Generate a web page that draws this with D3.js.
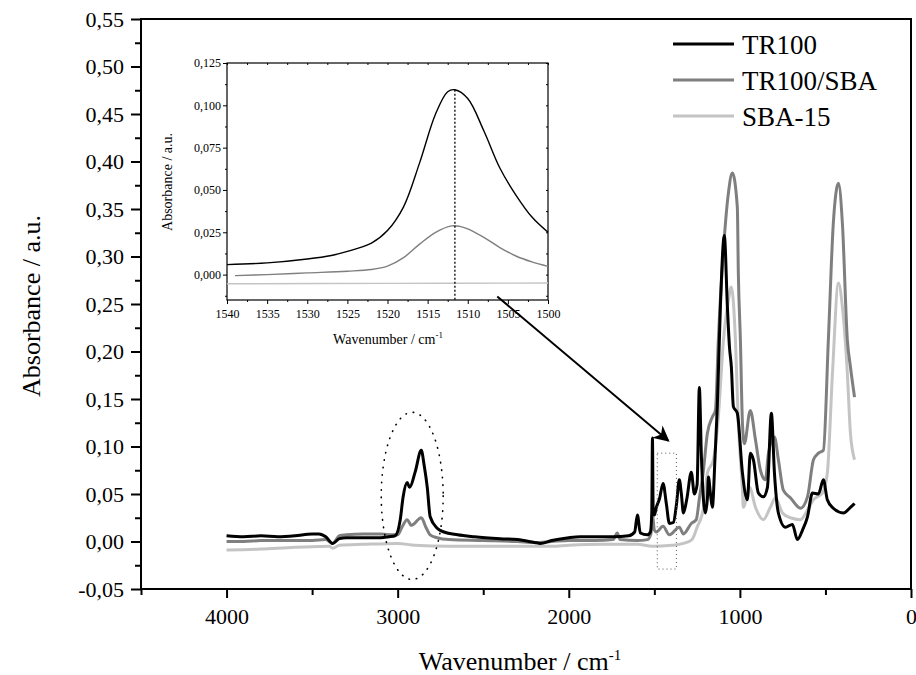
<!DOCTYPE html>
<html>
<head>
<meta charset="utf-8">
<script src="https://cdn.jsdelivr.net/npm/d3@7"></script>
<style>
body { margin: 0; background: #fff; }
</style>
</head>
<body>
<svg id="chart" width="916" height="675"></svg>
<script>
// ---- data ----
const seriesNames = ["TR100", "TR100/SBA", "SBA-15"];
const seriesColors = ["#000000", "#7f7f7f", "#c4c4c4"];

const wnTR100 = [4000,3900,3800,3700,3600,3500,3460,3420,3380,3340,3300,3200,3100,3050,3015,2985,2968,2945,2930,2898,2862,2845,2827,2810,2769,2730,2650,2550,2400,2300,2200,2167,2100,2000,1933,1850,1740,1650,1615,1599,1582,1541,1523,1515,1511,1507,1500,1488,1470,1449,1430,1412,1389,1370,1354,1342,1330,1310,1284,1266,1250,1237,1225,1213,1202,1190,1184,1172,1161,1145,1132,1114,1091,1073,1061,1050,1038,1015,985,956,939,921,892,863,839,816,798,775,734,693,664,634,605,576,541,512,489,454,395,354,330];
const absTR100 = [0.006,0.005,0.006,0.005,0.006,0.008,0.008,0.005,-0.002,0.003,0.004,0.004,0.004,0.005,0.006,0.023,0.047,0.062,0.057,0.073,0.096,0.080,0.057,0.026,0.014,0.010,0.007,0.005,0.003,0.002,-0.001,-0.002,0.001,0.004,0.005,0.005,0.005,0.006,0.010,0.028,0.009,0.007,0.010,0.030,0.109,0.035,0.028,0.036,0.045,0.061,0.040,0.019,0.020,0.040,0.065,0.050,0.030,0.045,0.073,0.050,0.060,0.162,0.090,0.044,0.030,0.045,0.068,0.050,0.036,0.090,0.142,0.247,0.322,0.247,0.205,0.184,0.142,0.135,0.072,0.044,0.093,0.086,0.051,0.047,0.057,0.135,0.072,0.030,0.015,0.018,0.002,0.012,0.026,0.051,0.050,0.065,0.044,0.035,0.030,0.036,0.040];

const wnTR100SBA = [4000,3900,3800,3700,3600,3500,3420,3380,3340,3300,3200,3100,3030,3000,2975,2945,2920,2862,2835,2810,2770,2700,2500,2300,2200,2100,2000,1850,1740,1717,1700,1600,1540,1520,1511,1500,1488,1449,1412,1354,1330,1284,1255,1237,1213,1190,1161,1143,1126,1096,1067,1044,1015,1009,997,985,974,939,909,880,851,833,798,775,746,705,646,605,570,541,512,483,454,424,401,372,354,330];
const absTR100SBA = [0.000,0.000,0.001,0.001,0.001,0.001,0.002,-0.002,0.006,0.007,0.008,0.008,0.007,0.007,0.015,0.023,0.017,0.025,0.015,0.007,0.004,0.002,0.001,0.000,-0.001,0.000,0.001,0.001,0.002,0.009,0.002,0.001,0.002,0.008,0.029,0.012,0.010,0.016,0.007,0.015,0.008,0.019,0.023,0.045,0.075,0.114,0.131,0.138,0.212,0.307,0.367,0.388,0.352,0.282,0.212,0.124,0.103,0.138,0.107,0.075,0.065,0.093,0.110,0.086,0.054,0.046,0.035,0.047,0.086,0.093,0.096,0.212,0.335,0.377,0.335,0.212,0.184,0.152];

const wnSBA15 = [4000,3800,3600,3500,3400,3380,3340,3200,3000,2900,2700,2500,2300,2100,2000,1800,1600,1511,1400,1330,1280,1250,1213,1190,1155,1126,1096,1067,1050,1026,1009,985,980,944,909,863,822,792,751,705,646,605,570,518,489,459,424,401,372,354,330];
const absSBA15 = [-0.009,-0.008,-0.006,-0.0055,-0.005,-0.007,-0.004,-0.003,-0.002,-0.004,-0.005,-0.005,-0.005,-0.005,-0.004,-0.003,-0.003,-0.005,-0.004,-0.002,0.002,0.015,0.035,0.072,0.086,0.131,0.212,0.254,0.268,0.212,0.124,0.054,0.036,0.057,0.036,0.023,0.036,0.046,0.030,0.025,0.023,0.033,0.044,0.051,0.072,0.177,0.272,0.247,0.177,0.114,0.086];

// inset (1540-1500 cm-1)
const insWnTR100 = [1540,1535,1530,1527,1525,1522,1520,1518,1516,1514,1512.5,1511.6,1510,1508,1506,1504,1502,1500];
const insAbsTR100 = [0.0059,0.0069,0.0092,0.0113,0.0137,0.0186,0.026,0.040,0.066,0.095,0.108,0.1092,0.104,0.085,0.063,0.047,0.034,0.025];
const insWnTR100SBA = [1539,1535,1530,1525,1522,1520,1518,1516,1514,1512,1511,1510,1508,1506,1504,1502,1500];
const insAbsTR100SBA = [-0.0006,0.000,0.001,0.002,0.003,0.005,0.010,0.018,0.025,0.0288,0.0285,0.027,0.022,0.016,0.011,0.0075,0.0049];
const insWnSBA15 = [1540,1520,1500];
const insAbsSBA15 = [-0.0054,-0.0052,-0.005];
const insPeak = 1511.6;

// tick values
const xTicks = [4000, 3000, 2000, 1000, 0];
const xMinor = [4500, 3500, 2500, 1500, 500];
const yTicks = [-0.05,0,0.05,0.10,0.15,0.20,0.25,0.30,0.35,0.40,0.45,0.50,0.55];
const yMinor = [-0.025,0.025,0.075,0.125,0.175,0.225,0.275,0.325,0.375,0.425,0.475,0.525];
const insXTicks = [1540,1535,1530,1525,1520,1515,1510,1505,1500];
const insXMinor = [1537.5,1532.5,1527.5,1522.5,1517.5,1512.5,1507.5,1502.5];
const insYTicks = [0,0.025,0.05,0.075,0.1,0.125];
const insYMinor = [-0.0125,0.0125,0.0375,0.0625,0.0875,0.1125];

// ---- drawing ----
const loc = d3.formatLocale({decimal: ",", thousands: "", grouping: [3], currency: ["", ""], minus: "-"});
const svg = d3.select("#chart");
const serif = "Liberation Serif, DejaVu Serif";

const x = d3.scaleLinear().domain([4500, 0]).range([141, 911]);
const y = d3.scaleLinear().domain([-0.05, 0.55]).range([589, 19]);

function zip(w, a) { return w.map((v, i) => ({w: v, a: a[i]})); }

// axes
const gx = svg.append("g").attr("transform", "translate(0,589)");
gx.call(d3.axisBottom(x).tickValues(xTicks).tickSize(9).tickSizeOuter(0).tickFormat(d3.format("d")));
gx.append("g").call(d3.axisBottom(x).tickValues(xMinor).tickSize(6).tickFormat(""));
gx.selectAll(".domain").remove();
gx.selectAll("line").attr("stroke", "#000").attr("stroke-width", 2);
gx.selectAll("text").style("font-size", "22px").attr("dy", "1.05em");

const gy = svg.append("g").attr("transform", "translate(141,0)");
gy.call(d3.axisLeft(y).tickValues(yTicks).tickSize(10).tickFormat(loc.format(".2f")));
gy.append("g").call(d3.axisLeft(y).tickValues(yMinor).tickSize(6).tickFormat(""));
gy.selectAll(".domain").remove();
gy.selectAll("line").attr("stroke", "#000").attr("stroke-width", 2);
gy.selectAll("text").style("font-size", "22px").attr("x", -17);

svg.append("rect").attr("x", 141).attr("y", 19).attr("width", 770).attr("height", 570)
  .attr("fill", "none").attr("stroke", "#000").attr("stroke-width", 2);

// spectra
const line = d3.line().x(d => x(d.w)).y(d => y(d.a)).curve(d3.curveMonotoneX);
const mainData = [zip(wnSBA15, absSBA15), zip(wnTR100SBA, absTR100SBA), zip(wnTR100, absTR100)];
const mainColors = [seriesColors[2], seriesColors[1], seriesColors[0]];
svg.selectAll(".spec").data(mainData).enter().append("path")
  .attr("class", "spec")
  .attr("d", line)
  .attr("fill", "none")
  .attr("stroke", (d, i) => mainColors[i])
  .attr("stroke-width", 3)
  .attr("stroke-linejoin", "round");

// dotted ellipse around the C-H bands
svg.append("ellipse")
  .attr("cx", x(2915)).attr("cy", y(0.048))
  .attr("rx", x(2915) - x(3096)).attr("ry", y(-0.040) - y(0.048))
  .attr("fill", "none").attr("stroke", "#000").attr("stroke-width", 1.6)
  .attr("stroke-dasharray", "0.5,7").attr("stroke-linecap", "round");

// dotted box round the 1511 band
svg.append("rect")
  .attr("x", x(1483)).attr("y", y(0.093))
  .attr("width", x(1371) - x(1483)).attr("height", y(-0.029) - y(0.093))
  .attr("fill", "none").attr("stroke", "#555").attr("stroke-width", 1)
  .attr("stroke-dasharray", "1,3");

// arrow
svg.append("defs").append("marker")
  .attr("id", "head").attr("viewBox", "0 0 10 10").attr("refX", 9).attr("refY", 5)
  .attr("markerWidth", 8).attr("markerHeight", 8).attr("orient", "auto")
  .append("path").attr("d", "M0,0 L10,5 L0,10 L3,5 Z").attr("fill", "#000");
svg.append("line")
  .attr("x1", x(2418)).attr("y1", y(0.258))
  .attr("x2", x(1418)).attr("y2", y(0.106))
  .attr("stroke", "#000").attr("stroke-width", 2).attr("marker-end", "url(#head)");

// axis titles
svg.append("text").attr("x", 520).attr("y", 670).attr("text-anchor", "middle")
  .style("font-size", "26px")
  .html('Wavenumber / cm<tspan dy="-10" style="font-size:15px">-1</tspan>');
svg.append("text").attr("transform", "translate(40,306) rotate(-90)").attr("text-anchor", "middle")
  .style("font-size", "26px").text("Absorbance / a.u.");

// legend
const lg = svg.append("g");
seriesNames.forEach((n, i) => {
  const yy = 44 + i * 36;
  lg.append("line").attr("x1", 673).attr("x2", 734).attr("y1", yy).attr("y2", yy)
    .attr("stroke", seriesColors[i]).attr("stroke-width", 3);
  lg.append("text").attr("x", 742).attr("y", yy + 10).style("font-size", "27px").text(n);
});

// ---- inset ----
const ix = d3.scaleLinear().domain([1540, 1500]).range([227, 548]);
const iy = d3.scaleLinear().domain([-0.015, 0.125]).range([300, 63]);
const ins = svg.append("g");

const igx = ins.append("g").attr("transform", "translate(0,300)");
igx.call(d3.axisBottom(ix).tickValues(insXTicks).tickSize(4).tickFormat(d3.format("d")));
igx.append("g").call(d3.axisBottom(ix).tickValues(insXMinor).tickSize(2).tickFormat(""));
igx.selectAll(".domain").remove();
igx.selectAll("text").style("font-size", "12px").attr("dy", "0.9em");

const igy = ins.append("g").attr("transform", "translate(227,0)");
igy.call(d3.axisLeft(iy).tickValues(insYTicks).tickSize(4).tickFormat(loc.format(".3f")));
igy.append("g").call(d3.axisLeft(iy).tickValues(insYMinor).tickSize(2).tickFormat(""));
igy.selectAll(".domain").remove();
igy.selectAll("text").style("font-size", "12px").attr("x", -6);

const igt = ins.append("g").attr("transform", "translate(0,63)");
igt.call(d3.axisTop(ix).tickValues(insXTicks.concat(insXMinor)).tickSize(-2).tickFormat(""));
igt.selectAll(".domain").remove();
const igr = ins.append("g").attr("transform", "translate(548,0)");
igr.call(d3.axisRight(iy).tickValues(insYTicks.concat(insYMinor)).tickSize(-2).tickFormat(""));
igr.selectAll(".domain").remove();

ins.append("rect").attr("x", 227).attr("y", 63).attr("width", 321).attr("height", 237)
  .attr("fill", "none").attr("stroke", "#000").attr("stroke-width", 1.2);

const iline = d3.line().x(d => ix(d.w)).y(d => iy(d.a)).curve(d3.curveCatmullRom.alpha(0.5));
const insData = [zip(insWnSBA15, insAbsSBA15), zip(insWnTR100SBA, insAbsTR100SBA), zip(insWnTR100, insAbsTR100)];
ins.selectAll(".ispec").data(insData).enter().append("path")
  .attr("class", "ispec")
  .attr("d", iline)
  .attr("fill", "none")
  .attr("stroke", (d, i) => mainColors[i])
  .attr("stroke-width", 1.4);

ins.append("line")
  .attr("x1", ix(insPeak)).attr("x2", ix(insPeak))
  .attr("y1", iy(0.1092)).attr("y2", iy(-0.015))
  .attr("stroke", "#000").attr("stroke-width", 1.3).attr("stroke-dasharray", "2,2");

ins.append("text").attr("x", 388).attr("y", 344).attr("text-anchor", "middle")
  .style("font-size", "14px")
  .html('Wavenumber / cm<tspan dy="-6" style="font-size:9px">-1</tspan>');
ins.append("text").attr("transform", "translate(172,182) rotate(-90)").attr("text-anchor", "middle")
  .style("font-size", "14px").text("Absorbance / a.u.");

svg.selectAll("g").attr("font-family", null);
svg.selectAll("text").attr("font-family", serif).style("font-family", serif).attr("fill", "#000");
</script>
</body>
</html>
